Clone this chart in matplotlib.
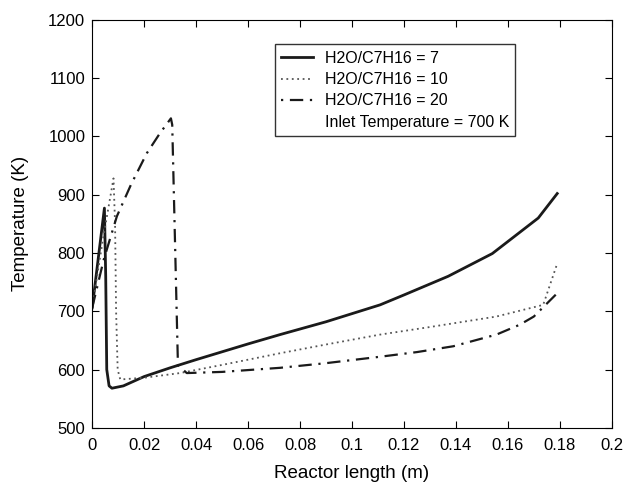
import numpy as np
import matplotlib
matplotlib.use("Agg")
from matplotlib import pyplot as plt
from matplotlib.lines import Line2D

plt.rcParams['font.family'] = ['Liberation Sans', 'DejaVu Sans']

# H2O/C7H16 = 7
x7 = [0, 0.0047, 0.0052, 0.0056, 0.0065, 0.0076, 0.012, 0.02, 0.03, 0.04,
      0.06, 0.0723, 0.09, 0.1108, 0.12, 0.137, 0.154, 0.1717, 0.179]
t7 = [706, 877, 760, 600, 572, 568, 572, 588, 603, 617,
      644, 660, 682, 711, 728, 760, 799, 860, 902]

# H2O/C7H16 = 10
x10 = [0, 0.004, 0.0082, 0.0088, 0.0092, 0.0098, 0.0108, 0.02, 0.0338, 0.05,
       0.0723, 0.09, 0.1108, 0.13, 0.1556, 0.1736, 0.1787]
t10 = [706, 820, 928, 850, 700, 600, 583, 586, 594, 608,
       628, 643, 660, 673, 691, 711, 778]

# H2O/C7H16 = 20
x20 = [0, 0.0044, 0.0095, 0.015, 0.021, 0.026, 0.0303, 0.0308, 0.033, 0.0364,
       0.05, 0.0723, 0.09, 0.1108, 0.125, 0.139, 0.1556, 0.1646, 0.17, 0.179]
t20 = [706, 788, 863, 918, 971, 1005, 1031, 1020, 608, 594,
       596, 603, 611, 622, 630, 640, 660, 677, 691, 731]

fig = plt.figure(figsize=(6.23, 4.84), dpi=100)
ax = fig.add_axes([0.148, 0.116, 0.834, 0.843])

ax.plot(x7, t7, color='#1a1a1a', lw=2.0, ls='-')
ax.plot(x10, t10, color='#555555', lw=1.3, ls=(0, (1, 2)))
ax.plot(x20, t20, color='#1a1a1a', lw=1.6, ls=(0, (6, 3, 1, 3)))

ax.set_xlim(0, 0.2)
ax.set_ylim(500, 1200)
ax.set_xticks(np.arange(0, 0.201, 0.02))
ax.set_xticklabels(['0', '0.02', '0.04', '0.06', '0.08', '0.1', '0.12',
                    '0.14', '0.16', '0.18', '0.2'])
ax.set_yticks(np.arange(500, 1201, 100))
ax.tick_params(direction='in', top=True, right=True, labelsize=12, length=5)
ax.tick_params(axis='x', pad=7)
ax.tick_params(axis='y', pad=5)
ax.set_xlabel('Reactor length (m)', fontsize=13.5, labelpad=9)
ax.set_ylabel('Temperature (K)', fontsize=13.5, labelpad=14)

handles = [Line2D([], [], color='#1a1a1a', lw=2.0, ls='-'),
           Line2D([], [], color='#555555', lw=1.3, ls=(0, (1, 2))),
           Line2D([], [], color='#1a1a1a', lw=1.6, ls=(0, (1, 3, 6, 3))),
           Line2D([], [], color='none')]
labels = ['H2O/C7H16 = 7', 'H2O/C7H16 = 10', 'H2O/C7H16 = 20',
          'Inlet Temperature = 700 K']
leg = ax.legend(handles, labels, loc='upper left', bbox_to_anchor=(0.352, 0.94),
                fontsize=11.5, frameon=True, fancybox=False, edgecolor='black',
                handlelength=2.0, handletextpad=0.7, borderpad=0.4,
                labelspacing=0.4, borderaxespad=0)
leg.get_frame().set_linewidth(1.0)

fig.savefig('out.png', dpi=100)
